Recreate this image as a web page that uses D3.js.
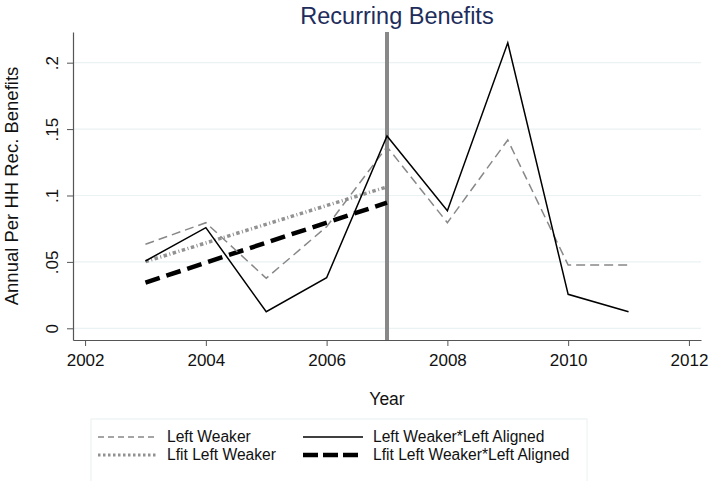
<!DOCTYPE html>
<html>
<head>
<meta charset="utf-8">
<script src="https://cdn.jsdelivr.net/npm/d3@7"></script>
<style>
  body { margin: 0; background: #fff; }
  svg { font-family: "Liberation Sans", Arial, sans-serif; }
</style>
</head>
<body>
<svg width="711" height="481"></svg>
<script>
(function (d3) {
    'use strict';

    const years = [2003, 2004, 2005, 2006, 2007, 2008, 2009, 2010, 2011];
    const leftWeaker = [0.0633, 0.0795, 0.0377, 0.0765, 0.1367, 0.0795, 0.1418, 0.0477, 0.0477];
    const leftWeakerAligned = [0.0507, 0.0758, 0.0125, 0.0381, 0.1448, 0.0886, 0.2150, 0.0256, 0.0125];
    const fitYears = [2003, 2007];
    const fitLeftWeaker = [0.0502, 0.1065];
    const fitLeftWeakerAligned = [0.0344, 0.0946];
    const xTicks = [2002, 2004, 2006, 2008, 2010, 2012];
    const yTicks = [0, 0.05, 0.1, 0.15, 0.2];
    const yTickLabels = ['0', '.05', '.1', '.15', '.2'];
    const cutoffYear = 2007;

    const svg = d3.select('svg');
    const margin = { top: 32, right: 10, bottom: 141, left: 73 };
    const width = 711, height = 481;
    const innerWidth = width - margin.left - margin.right;
    const innerHeight = height - margin.top - margin.bottom;

    const x = d3.scaleLinear().domain([2001.8, 2012.2]).range([0, innerWidth]);
    const y = d3.scaleLinear().domain([-0.0088, 0.2231]).range([innerHeight, 0]);

    const g = svg.append('g')
        .attr('transform', `translate(${margin.left}, ${margin.top})`);

    // gridlines
    g.selectAll('.grid').data(yTicks)
        .enter().append('line')
            .attr('x1', 0).attr('x2', innerWidth)
            .attr('y1', d => y(d)).attr('y2', d => y(d))
            .attr('stroke', '#eaf2f3').attr('stroke-width', 1.2);

    // axes
    const yAxis = g.append('g')
        .call(d3.axisLeft(y).tickValues(yTicks).tickFormat((d, i) => yTickLabels[i]).tickSize(6).tickSizeOuter(0));
    yAxis.select('.domain').attr('stroke', '#555').attr('stroke-width', 1.2);
    yAxis.selectAll('.tick line').attr('stroke', '#555');
    yAxis.selectAll('.tick text')
        .attr('font-size', 17).attr('fill', '#111')
        .attr('transform', 'rotate(-90)')
        .attr('x', 0).attr('y', -15).attr('dy', 0)
        .attr('text-anchor', 'middle');

    const xAxis = g.append('g')
        .attr('transform', `translate(0, ${innerHeight})`)
        .call(d3.axisBottom(x).tickValues(xTicks).tickFormat(d3.format('d')).tickSize(6).tickSizeOuter(0));
    xAxis.select('.domain').attr('stroke', '#555').attr('stroke-width', 1.2);
    xAxis.selectAll('.tick line').attr('stroke', '#555');
    xAxis.selectAll('.tick text')
        .attr('font-size', 17).attr('fill', '#111')
        .attr('y', 26).attr('dy', 0);

    // cutoff line
    g.append('line')
        .attr('x1', x(cutoffYear)).attr('x2', x(cutoffYear))
        .attr('y1', 0).attr('y2', innerHeight)
        .attr('stroke', '#888').attr('stroke-width', 4);

    const line = d3.line().x(d => x(d[0])).y(d => y(d[1]));

    const series = [
        { name: 'Left Weaker', data: d3.zip(years, leftWeaker), stroke: '#888', width: 1.5, dash: '9,5' },
        { name: 'Left Weaker*Left Aligned', data: d3.zip(years, leftWeakerAligned), stroke: '#000', width: 1.5, dash: null },
        { name: 'Lfit Left Weaker', data: d3.zip(fitYears, fitLeftWeaker), stroke: '#929292', width: 3.5, dash: '3.5,2.5,1,2.5' },
        { name: 'Lfit Left Weaker*Left Aligned', data: d3.zip(fitYears, fitLeftWeakerAligned), stroke: '#000', width: 4.5, dash: '15,7' }
    ];
    const drawOrder = [2, 3, 0, 1];

    drawOrder.forEach(i => {
        const s = series[i];
        g.append('path')
            .attr('d', line(s.data))
            .attr('fill', 'none')
            .attr('stroke', s.stroke)
            .attr('stroke-width', s.width)
            .attr('stroke-dasharray', s.dash);
    });

    // title and axis labels
    svg.append('text')
        .attr('x', 397).attr('y', 24)
        .attr('text-anchor', 'middle')
        .attr('font-size', 23.5).attr('fill', '#1e2d5c')
        .text('Recurring Benefits');

    svg.append('text')
        .attr('transform', 'translate(18, 186) rotate(-90)')
        .attr('text-anchor', 'middle')
        .attr('font-size', 18.5).attr('fill', '#111')
        .text('Annual Per HH Rec. Benefits');

    svg.append('text')
        .attr('x', margin.left + x(2007)).attr('y', 405)
        .attr('text-anchor', 'middle')
        .attr('font-size', 17.5).attr('fill', '#111')
        .text('Year');

    // legend
    const legend = svg.append('g');
    legend.append('rect')
        .attr('x', 91).attr('y', 419).attr('width', 496).attr('height', 70)
        .attr('fill', '#fff').attr('stroke', '#e8f0f2');

    const legendPos = [
        { sx: 98, tx: 167, y: 437 },
        { sx: 303, tx: 373, y: 437 },
        { sx: 98, tx: 167, y: 455 },
        { sx: 303, tx: 373, y: 455 }
    ];
    const legendDash = ['6,4', null, '2.5,2.5', '15,5'];
    const legendWidth = [1.5, 1.5, 3, 4.5];

    series.forEach((s, i) => {
        const p = legendPos[i];
        legend.append('line')
            .attr('x1', p.sx).attr('x2', p.sx + 60)
            .attr('y1', p.y).attr('y2', p.y)
            .attr('stroke', s.stroke)
            .attr('stroke-width', legendWidth[i])
            .attr('stroke-dasharray', legendDash[i]);
        legend.append('text')
            .attr('x', p.tx).attr('y', p.y)
            .attr('dy', '0.35em')
            .attr('font-size', 15.6).attr('fill', '#111')
            .text(s.name);
    });
}(d3));
</script>
</body>
</html>
